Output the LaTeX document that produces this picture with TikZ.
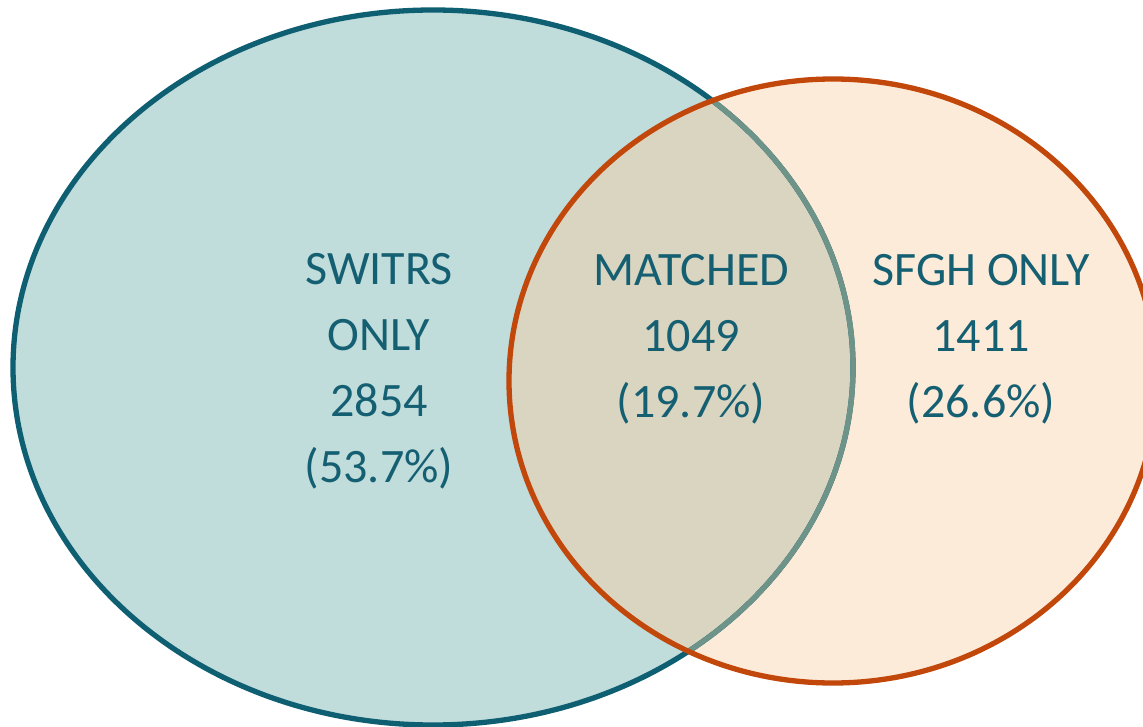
\documentclass[tikz,border=0pt]{standalone}
\usepackage{fontspec}
\setmainfont{Carlito}
\definecolor{tealfill}{HTML}{C0DCDB}
\definecolor{tealline}{HTML}{0F5F73}
\definecolor{peachfill}{HTML}{FDEBD9}
\definecolor{orangeline}{HTML}{C2470A}
\definecolor{midfill}{HTML}{D9D5C1}
\definecolor{midline}{HTML}{6E9388}
\definecolor{labeltext}{HTML}{155F72}
\tikzset{
  label/.style={anchor=base, inner sep=0pt, align=center, text=labeltext,
    font=\fontsize{48}{66}\selectfont},
  ring/.style={line width=5.3pt}
}
\begin{document}
\begin{tikzpicture}[x=1pt,y=-1pt]
\useasboundingbox (0,0) rectangle (1143,727);
\clip (0,0) rectangle (1143,727);
\def\leftell{(433,367.5) ellipse [x radius=420, y radius=357.5]}
\def\rightell{(833,381) ellipse [x radius=324, y radius=302]}
\fill[tealfill] \leftell;
\fill[peachfill] \rightell;
\begin{scope}
  \clip \leftell;
  \fill[midfill] \rightell;
\end{scope}
\draw[ring, tealline] \leftell;
\begin{scope}
  \clip \rightell;
  \draw[ring, midline] \leftell;
\end{scope}
\draw[ring, orangeline] \rightell;
\node[label] (switrs) at (379,482) {SWITRS\\ONLY\\2854\\(53.7\%)};
\node[label] (matched) at (691,417) {MATCHED\\1049\\(19.7\%)};
\node[label] (sfgh) at (981,417) {SFGH ONLY\\1411\\(26.6\%)};
\end{tikzpicture}
\end{document}
